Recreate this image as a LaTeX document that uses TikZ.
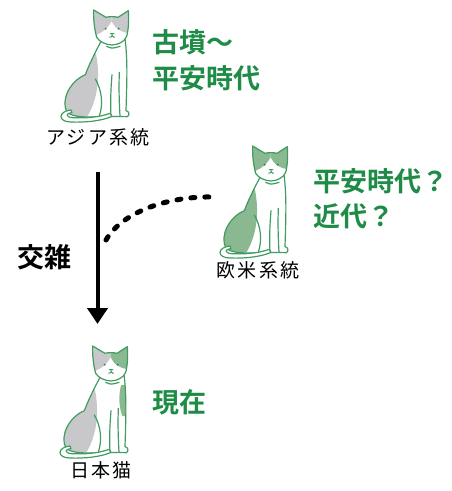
\documentclass[tikz,border=0pt]{standalone}
\usepackage{fontspec}
\newfontfamily\jp[LetterSpace=12]{Noto Sans CJK JP}
\newfontfamily\jpb{Noto Sans CJK JP Bold}
\usetikzlibrary{arrows.meta}
\definecolor{catgreen}{RGB}{64,156,96}
\definecolor{txtgreen}{RGB}{30,140,70}
\definecolor{patchgray}{RGB}{200,200,202}
\definecolor{patchgreen}{RGB}{138,184,144}

% outline pieces of the sitting cat, in a 240 x 360 local grid
\newcommand\catbody{(135,112) .. controls (115,150) and (98,185) .. (88,212)
  .. controls (40,232) and (15,290) .. (32,322)
  .. controls (45,342) and (100,340) .. (150,337) -- (214,338)
  .. controls (222,333) and (220,322) .. (210,320)
  .. controls (212,250) and (216,170) .. (207,105) -- cycle}
\newcommand\cathead{(122,100) .. controls (114,70) and (112,40) .. (113,18) -- (150,40)
  .. controls (160,37) and (175,37) .. (186,40) -- (217,20)
  .. controls (219,45) and (218,75) .. (212,97)
  .. controls (205,113) and (188,122) .. (168,123)
  .. controls (148,122) and (130,113) .. (122,100) -- cycle}
\newcommand\cattail{(45,318) .. controls (5,322) and (5,354) .. (45,354)
  .. controls (90,356) and (140,350) .. (168,337) -- (162,328)
  .. controls (130,340) and (90,343) .. (50,341)
  .. controls (28,339) and (28,328) .. (48,326) -- cycle}

\tikzset{
  catline/.style={draw=catgreen, line width=1.2pt, line join=round, line cap=round},
  label/.style={font=\jp\fontsize{19}{19}\selectfont, inner sep=0pt},
  era/.style={font=\jpb\fontsize{27}{27}\selectfont, text=txtgreen, inner sep=0pt, anchor=west},
  % #1 left head patch, #2 right head patch, #3 haunch patch, #4 chest patch
  pics/cat/.style n args={4}{code={
    \begin{scope}[scale=1/3]
      \fill[white] \catbody;
      \begin{scope}
        \clip \catbody;
        \fill[#3] (0,100) -- (120,150) .. controls (132,210) and (128,280) .. (95,336) -- (0,360) -- cycle;
        \fill[#4] (198,135) .. controls (190,170) and (192,200) .. (202,228) -- (230,228) -- (230,135) -- cycle;
      \end{scope}
      \draw[catline] \catbody;
      \draw[catline] (118,225) .. controls (138,260) and (142,300) .. (130,336);
      \draw[catline] (168,212) .. controls (164,260) and (163,300) .. (165,336);
      \draw[catline] (190,205) .. controls (188,260) and (190,300) .. (192,336);
      \path[catline, fill=white] \cattail;
      \fill[white] \cathead;
      \begin{scope}
        \clip \cathead;
        \fill[#1] (100,0) -- (100,95) -- (122,92) .. controls (140,85) and (156,72) .. (167,52) -- (167,0) -- cycle;
        \fill[#2] (167,0) -- (167,52) .. controls (176,72) and (192,85) .. (230,90) -- (230,0) -- cycle;
      \end{scope}
      \draw[catline] \cathead;
      \fill[catgreen!80!black] (149,74) circle (3.2) (188,74) circle (3.2);
      \draw[catline, line width=1pt] (163,89) -- (174,89) (168.5,89) -- (168.5,95)
        (161,99) .. controls (165,100) .. (168.5,95) .. controls (172,100) .. (176,99);
      \draw[catline] (152,127) .. controls (168,134) .. (192,127);
    \end{scope}
  }}
}

\begin{document}
\begin{tikzpicture}[x=1pt, y=-1pt]
  \useasboundingbox[fill=white] (0,0) rectangle (451,491);

  % cats
  \pic at (56,4) {cat={patchgray}{patchgray}{patchgray}{white}};
  \pic at (215,140) {cat={patchgreen}{patchgreen}{patchgreen}{white}};
  \pic at (55,340) {cat={patchgray}{patchgreen}{patchgray}{patchgreen}};

  % lineage labels
  \node[label] (asia) at (98,137) {アジア系統};
  \node[label] (west) at (258,270) {欧米系統};
  \node[label] (jp) at (101,470) {日本猫};

  % periods
  \node[era] (e1) at (152,42) {古墳〜};
  \node[era] (e2) at (152,78) {平安時代};
  \node[era] (e3) at (313,181) {平安時代？};
  \node[era] (e4) at (313,216) {近代？};
  \node[era] (e5) at (152,402) {現在};

  % crossing
  \node[font=\jpb\fontsize{27}{27}\selectfont, inner sep=0pt, anchor=west] (mix) at (17,257) {交雑};

  \coordinate (atop) at (97.5,172);
  \coordinate (abot) at (97.5,324);
  \draw[line width=4pt, -{Triangle[length=16pt, width=20pt]}] (atop) -- (abot);

  \coordinate (dstart) at (106,240);
  \coordinate (dend) at (213,197);
  \draw[line width=5pt, line cap=round, dash pattern=on 4pt off 10pt]
    (dstart) .. controls (122,212) and (168,196) .. (dend);
\end{tikzpicture}
\end{document}
